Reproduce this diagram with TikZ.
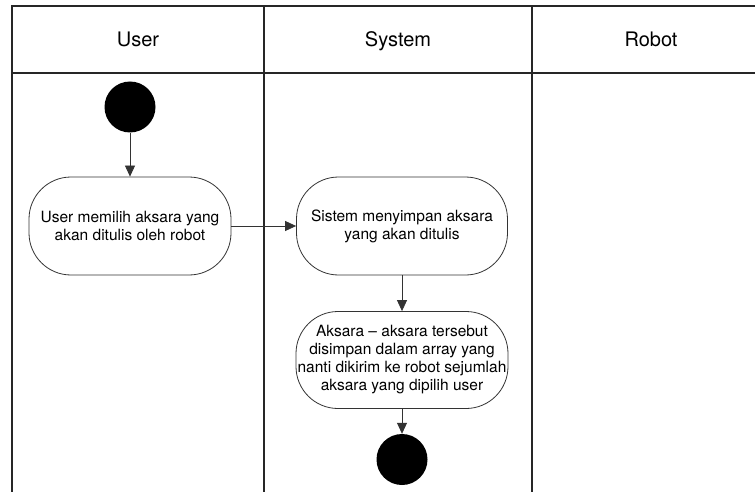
\documentclass[tikz,border=0pt]{standalone}
\usepackage{fontspec}
\setmainfont{TeX Gyre Heros}
\usetikzlibrary{arrows.meta}
\begin{document}
\begin{tikzpicture}[x=1pt,y=-1pt,
  lanehead/.style={line width=1.8pt,draw=black!85},
  laneline/.style={line width=1.1pt,draw=black!85},
  headlabel/.style={font=\fontsize{20}{24}\selectfont,text height=14pt,text depth=4pt,inner sep=0pt},
  activity/.style={draw=black!80,line width=0.8pt,rounded corners=42pt,
    align=center,inner sep=0pt,font=\fontsize{15.5}{18}\selectfont},
  startend/.style={circle,fill=black,minimum size=51pt,inner sep=0pt},
  flow/.style={draw=black!80,line width=0.8pt,-{Triangle[length=11pt,width=10pt]}}]
\useasboundingbox (0,0) rectangle (755,492);
\fill[white] (0,0) rectangle (755,492);

% swimlane header row
\draw[lanehead] (770,6) -- (12,6) -- (12,73) -- (770,73);
\draw[lanehead] (264,6) -- (264,73);
\draw[lanehead] (532,6) -- (532,73);
% swimlane bodies
\draw[laneline] (12,73) -- (12,495);
\draw[laneline] (264,73) -- (264,495);
\draw[laneline] (532,73) -- (532,495);

\node[headlabel] (huser) at (138,42) {User};
\node[headlabel] (hsystem) at (398,42) {System};
\node[headlabel] (hrobot) at (651,42) {Robot};

% activity nodes
\node[startend] (start) at (130,107) {};
\node[activity,minimum width=202pt,minimum height=98pt] (pick) at (130,226)
  {User memilih aksara yang\\akan ditulis oleh robot};
\node[activity,minimum width=211pt,minimum height=98pt] (store) at (402,226)
  {Sistem menyimpan aksara\\yang akan ditulis};
\node[activity,minimum width=212pt,minimum height=97pt] (array) at (402,360)
  {Aksara -- aksara tersebut\\disimpan dalam array yang\\nanti dikirim ke robot sejumlah\\aksara yang dipilih user};
\node[startend] (finish) at (402,459.5) {};

% control flow
\draw[flow] (start) -- (pick);
\draw[flow] (pick) -- (store);
\draw[flow] (store) -- (array);
\draw[flow] (array) -- (finish);
\end{tikzpicture}
\end{document}
